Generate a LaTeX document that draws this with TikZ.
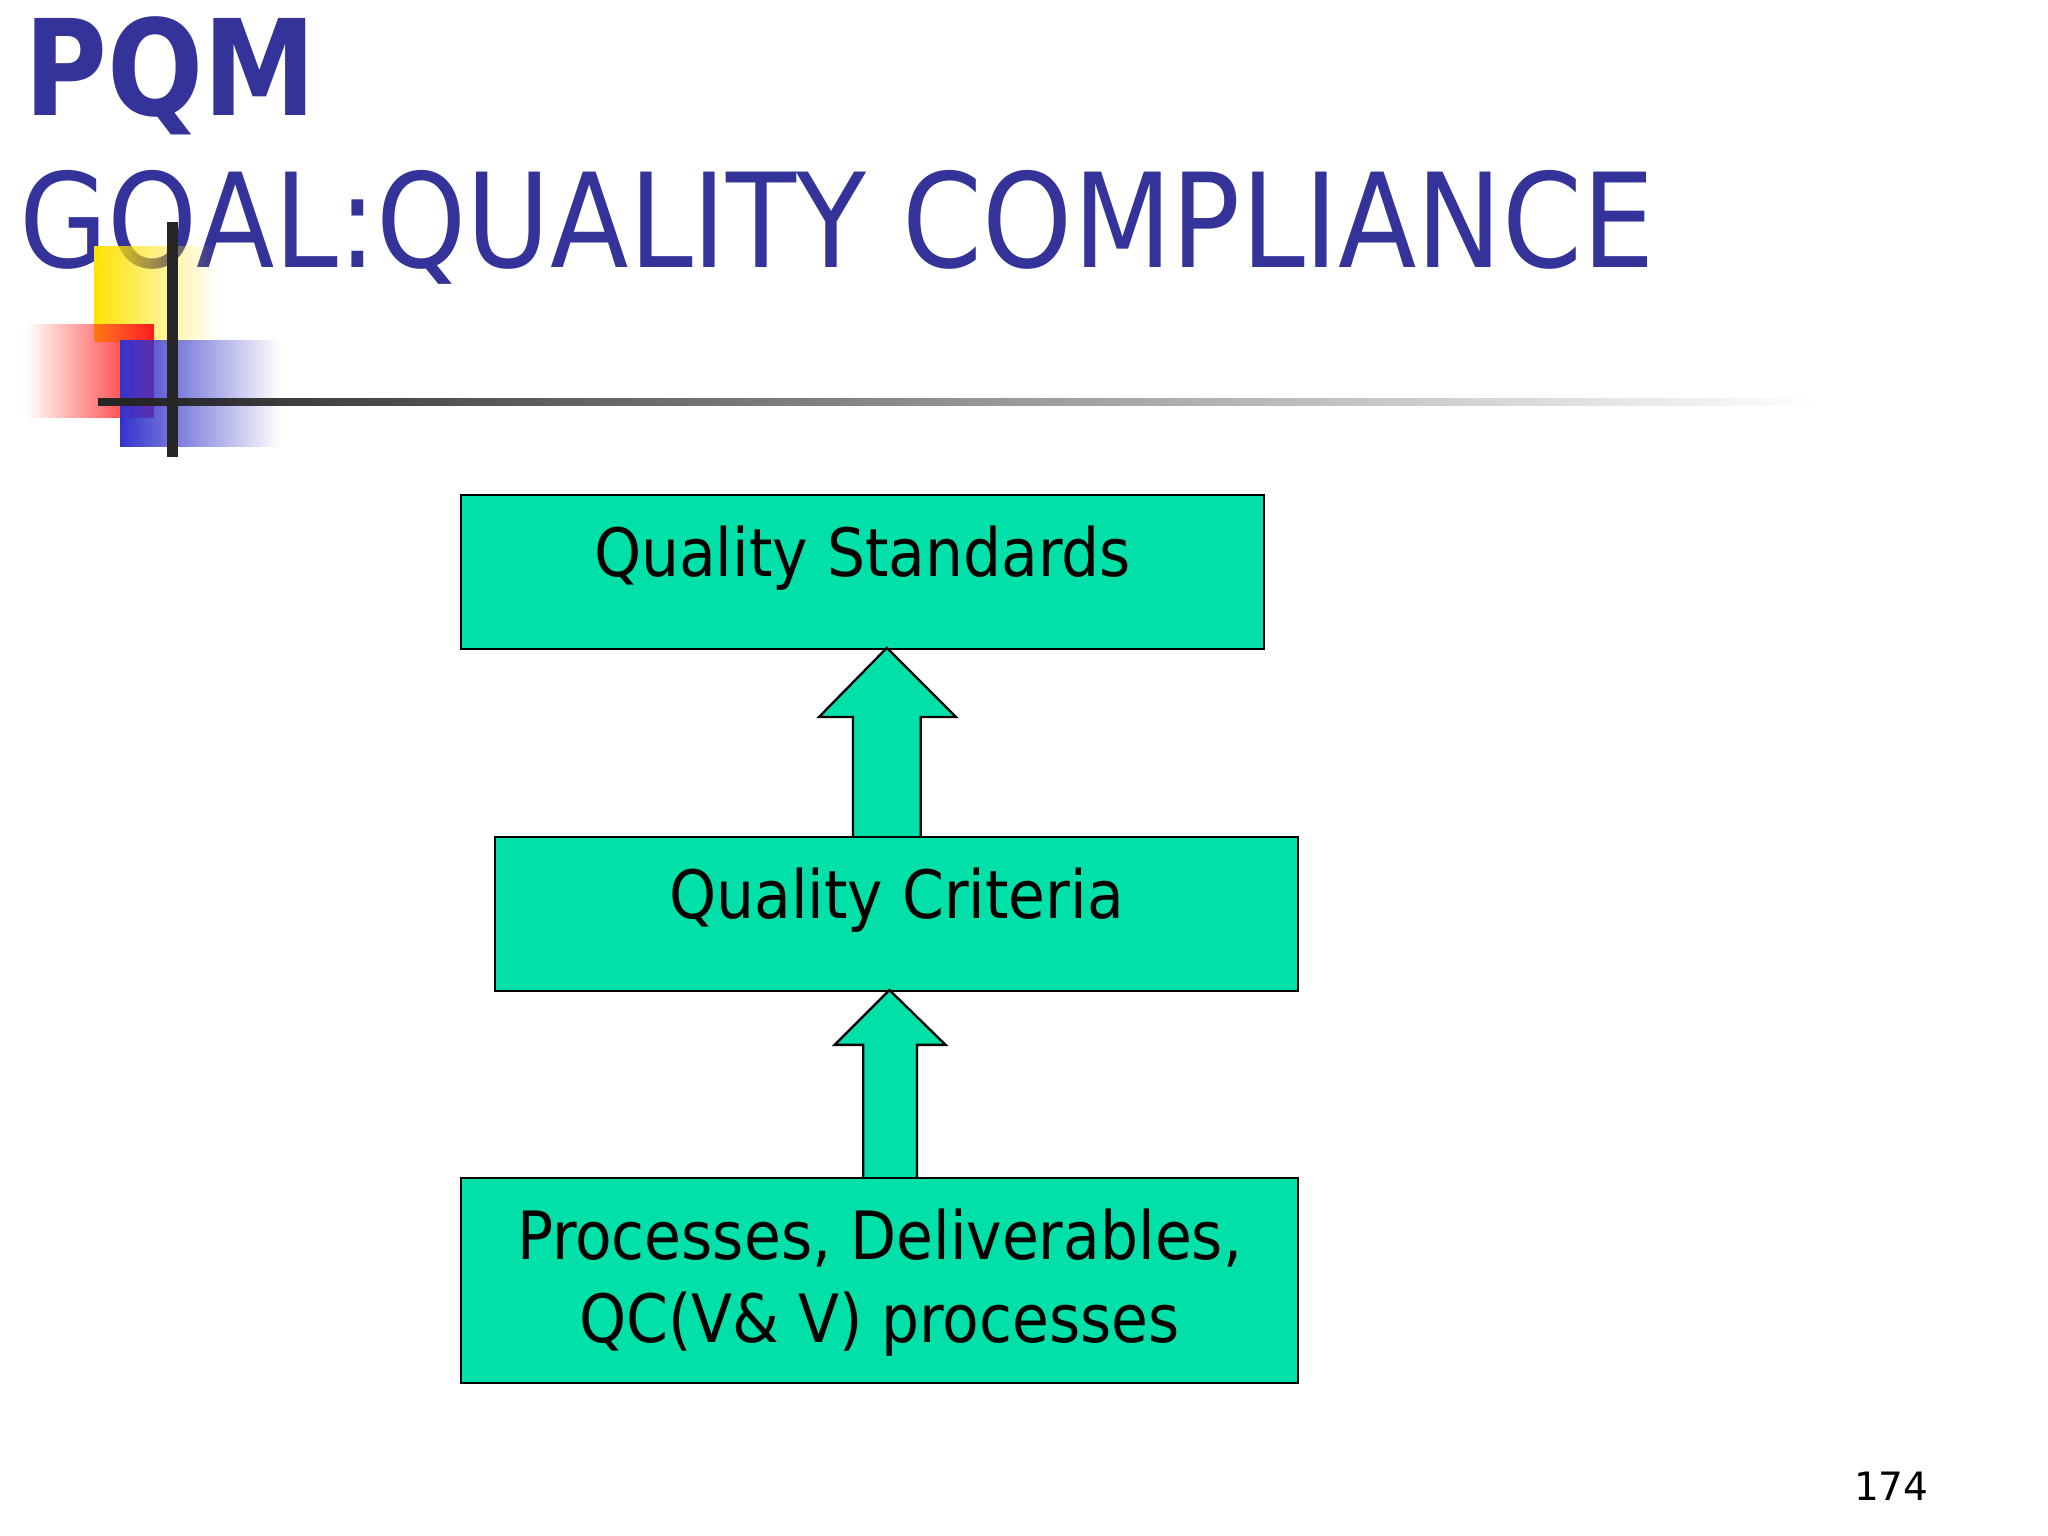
\documentclass[tikz,border=0pt]{standalone}
\usepackage{fontspec}
\setmainfont{DejaVu Sans}
\newfontfamily\boxfont{DejaVu Sans Condensed}
\usetikzlibrary{positioning,fadings}
\definecolor{titleblue}{HTML}{333399}
\definecolor{boxgreen}{HTML}{00E0A8}
\definecolor{decoblue}{HTML}{3333CC}
\tikzset{
  qbox/.style={draw=black,fill=boxgreen,anchor=north west,inner sep=0pt},
  qtext/.style={font=\boxfont\fontsize{14.5}{18}\selectfont,align=center},
  blockarrow/.style={draw=black,fill=boxgreen,line width=0.5pt}
}
\begin{document}
\begin{tikzpicture}[x=0.01cm,y=-0.01cm]
\useasboundingbox (0,0) rectangle (1568,1176);
% title
\node (pqm) at (18,58) [anchor=west,text=titleblue,font=\bfseries\fontsize{29}{30}\selectfont,inner sep=0pt,xscale=0.85,transform shape] {PQM};
\node (goal) at (14,174) [anchor=west,text=titleblue,font=\fontsize{28.5}{30}\selectfont,inner sep=0pt,xscale=0.875,transform shape] {GOAL:QUALITY COMPLIANCE};
% corner decoration
\fill[yellow!85!orange,path fading=east] (72,188) rectangle (165,262);
\fill[red!90!white,path fading=west] (20,248) rectangle (118,320);
\fill[decoblue,path fading=east] (92,260) rectangle (215,342);
\draw[line width=2.5pt,black!85] (132,170) -- (132,350);
\fill[black!85,path fading=east] (75,305) rectangle (1390,311);
% boxes
\node (std) at (352,378) [qbox,minimum width=6.15cm,minimum height=1.18cm] {};
\node at (std.north) [below=0.12cm,qtext] {Quality Standards};
\node (crit) at (378,640) [qbox,minimum width=6.15cm,minimum height=1.18cm] {};
\node at (crit.north) [below=0.12cm,qtext] {Quality Criteria};
\node (proc) at (352,901) [qbox,minimum width=6.41cm,minimum height=1.57cm] {};
\node at (proc.north) [below=0.12cm,qtext] {Processes, Deliverables,\\QC(V\& V) processes};
% arrows
\draw[blockarrow] (653,640) -- (653,549) -- (627,549) -- (679,496) -- (732,549) -- (705,549) -- (705,640);
\draw[blockarrow] (661,901) -- (661,800) -- (639,800) -- (681,758) -- (724,800) -- (702,800) -- (702,901);
% page number
\node (page) at (1448,1138) [font=\fontsize{8.5}{10}\selectfont] {174};
\end{tikzpicture}
\end{document}
